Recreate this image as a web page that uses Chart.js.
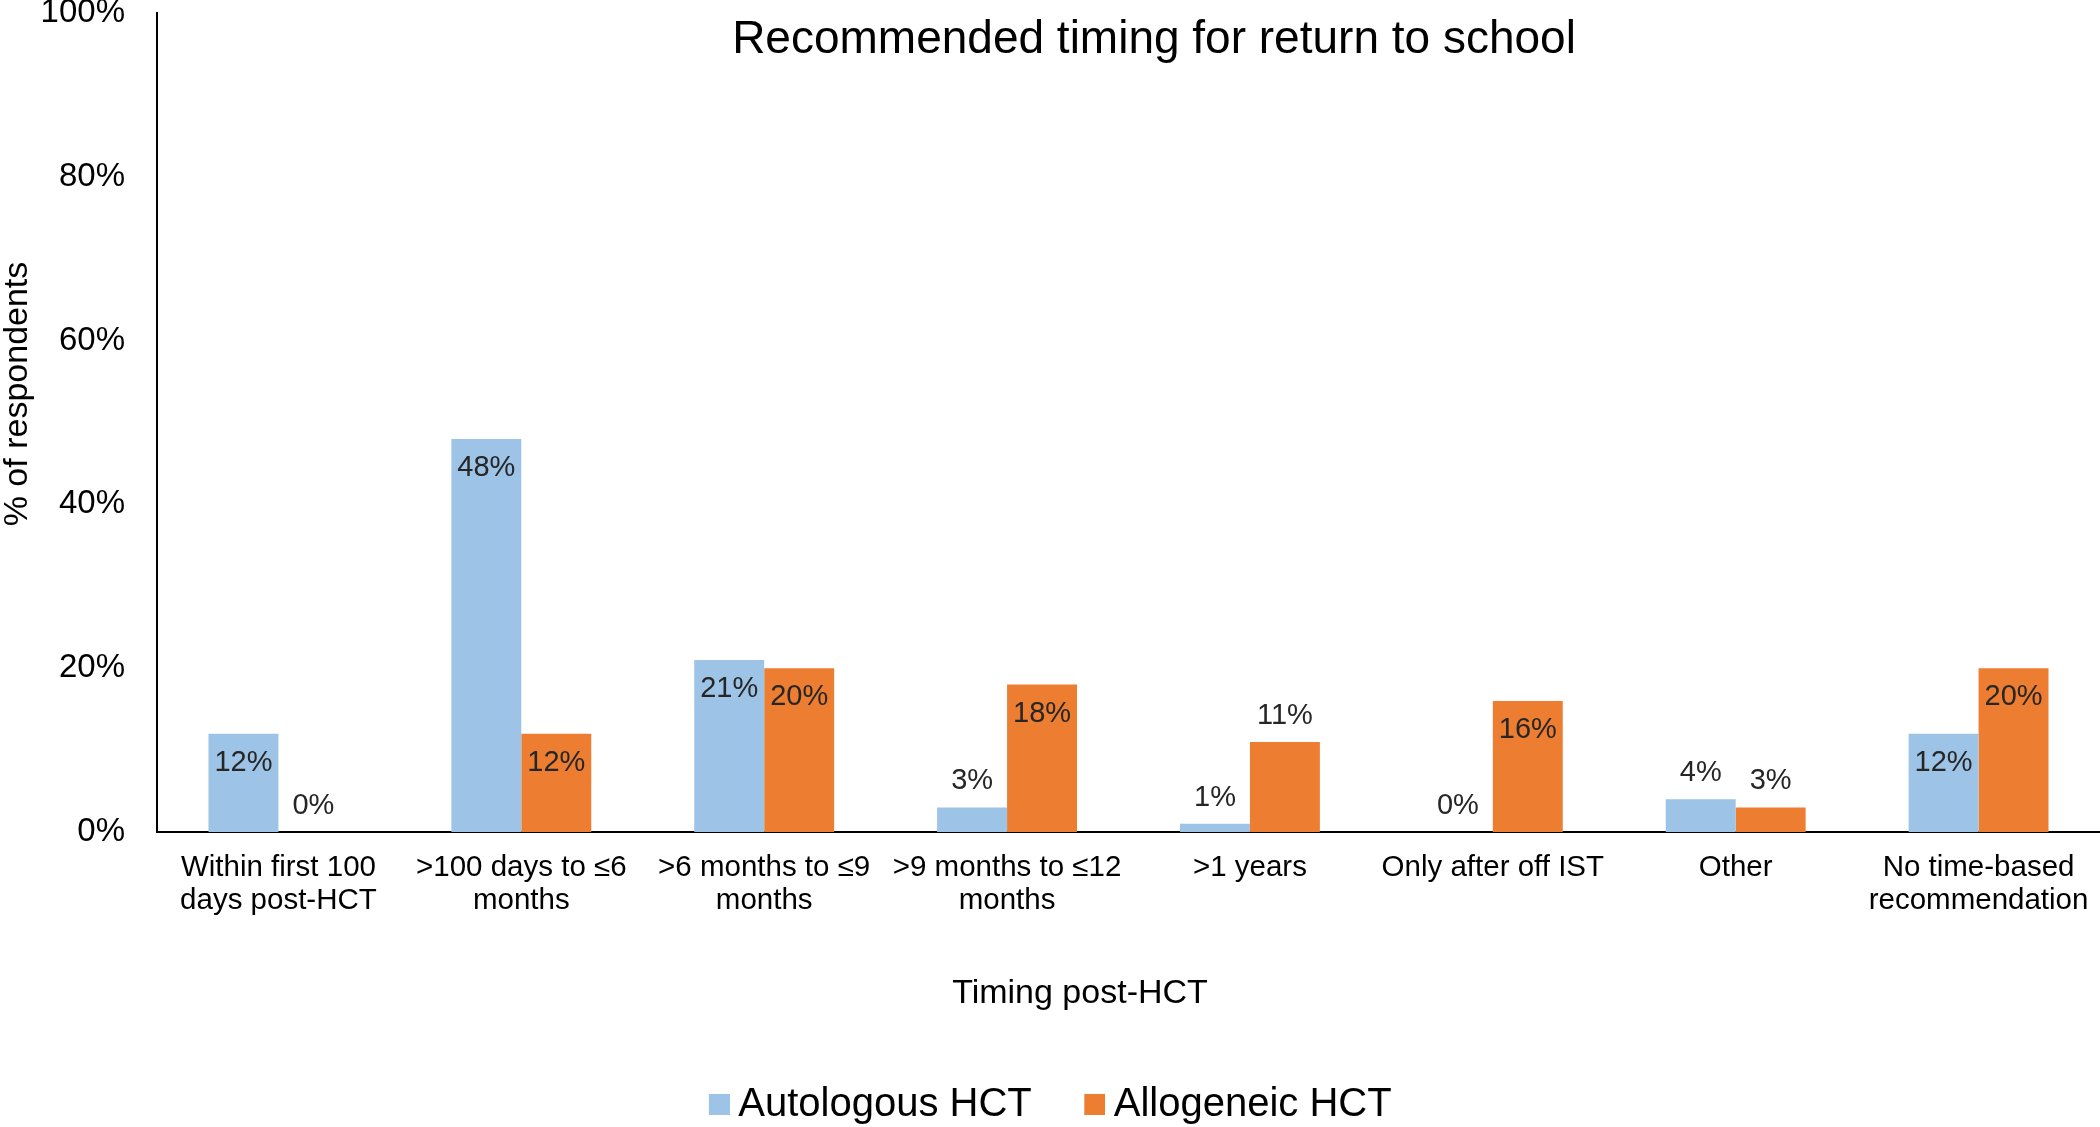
<!DOCTYPE html>
<html><head><meta charset="utf-8">
<script src="https://cdn.jsdelivr.net/npm/chart.js@4.4.0/dist/chart.umd.min.js"></script>
<style>html,body{margin:0;padding:0;background:#fff;overflow:hidden}#wrap{width:2100px;height:1127px}</style>
</head><body><div id="wrap"><canvas id="c" width="2100" height="1127"></canvas></div>
<script>
const categories = [["Within first 100","days post-HCT"],[">100 days to ≤6","months"],[">6 months to ≤9","months"],[">9 months to ≤12","months"],">1 years","Only after off IST","Other",["No time-based","recommendation"]];
const autologous = [12,48,21,3,1,0,4,12];
const allogeneic = [0,12,20,18,11,16,3,20];
const seriesNames = ["Autologous HCT","Allogeneic HCT"];
const seriesColors = ["#9DC3E6","#ED7D31"];
const yTicks = [0,20,40,60,80,100];
const chartTitle = "Recommended timing for return to school";
const xTitle = "Timing post-HCT";
const yTitle = "% of respondents";

const FAM = '"Liberation Sans", Arial, sans-serif';

function makeSwatch(color){
  const c = document.createElement('canvas');
  c.width = 33; c.height = 21;
  const g = c.getContext('2d');
  g.fillStyle = color; g.fillRect(12,0,21,21);
  return c;
}
const swatches = seriesColors.map(makeSwatch);

const labelPlugin = {
  id:'barLabels',
  afterDatasetsDraw(chart){
    const ctx = chart.ctx;
    ctx.save();
    ctx.font = '29px ' + FAM;
    ctx.textAlign = 'center'; ctx.textBaseline = 'middle'; ctx.fillStyle = '#262626';
    chart.data.datasets.forEach((ds,di)=>{
      const meta = chart.getDatasetMeta(di);
      meta.data.forEach((bar,i)=>{
        const v = ds.data[i];
        const inside = v >= 12;
        const y = inside ? bar.y + 29 : bar.y - 26;
        ctx.fillText(v + '%', bar.x, y);
      });
    });
    ctx.restore();
  }
};
const titlePlugin = {
  id:'freeTitles',
  afterDraw(chart){
    const ctx = chart.ctx;
    ctx.save();
    ctx.fillStyle = '#000';
    ctx.textAlign = 'center'; ctx.textBaseline = 'middle';
    ctx.font = '46px ' + FAM;
    ctx.fillText(chartTitle, 1154, 40);
    ctx.font = '34px ' + FAM;
    ctx.fillText(xTitle, 1080, 994);
    ctx.translate(18, 394);
    ctx.rotate(-Math.PI/2);
    ctx.fillText(yTitle, 0, 0);
    ctx.restore();
  }
};
const legendShift = {
  id:'legendShift',
  afterLayout(chart){ const l = chart.legend; if(l){ l.top += 18.5; l.bottom += 18.5; } }
};

new Chart(document.getElementById('c'), {
  type:'bar',
  data:{
    labels: categories,
    datasets:[
      {label: seriesNames[0], data: autologous, backgroundColor: seriesColors[0], borderWidth:0, barPercentage:1, categoryPercentage:0.576},
      {label: seriesNames[1], data: allogeneic, backgroundColor: seriesColors[1], borderWidth:0, barPercentage:1, categoryPercentage:0.576}
    ]
  },
  options:{
    responsive:false, animation:false, devicePixelRatio:1,
    layout:{padding:{top:13,left:0,right:0,bottom:11}},
    plugins:{
      title:{display:false},
      tooltip:{enabled:false},
      legend:{
        position:'bottom', align:'center',
        labels:{
          font:{size:40,family:FAM}, color:'#000', usePointStyle:true, boxWidth:10, boxHeight:39, padding:52,
          generateLabels(chart){
            const items = Chart.defaults.plugins.legend.labels.generateLabels(chart);
            items.forEach((it,i)=>{ it.pointStyle = swatches[i]; it.fontColor = '#000'; });
            return items;
          }
        }
      }
    },
    scales:{
      x:{
        ticks:{font:{size:29.5,family:FAM,lineHeight:1.12}, color:'#000', padding:19.5, maxRotation:0, autoSkip:false},
        grid:{display:false, drawTicks:false},
        border:{display:true, color:'#000', width:2},
        title:{display:false},
        afterFit(s){ s.height = 182; s.paddingLeft = 0; s.paddingRight = 0; }
      },
      y:{
        min:0, max:100,
        afterBuildTicks(scale){ scale.ticks = yTicks.map(v=>({value:v})); },
        ticks:{font:{size:33,family:FAM}, color:'#000', padding:32, callback:v=>v+'%'},
        grid:{display:false, drawTicks:false},
        border:{display:true, color:'#000', width:2},
        title:{display:false},
        afterFit(s){ s.width = 157; s.paddingTop = 0; s.paddingBottom = 0; }
      }
    }
  },
  plugins:[labelPlugin, titlePlugin, legendShift]
});
</script></body></html>
